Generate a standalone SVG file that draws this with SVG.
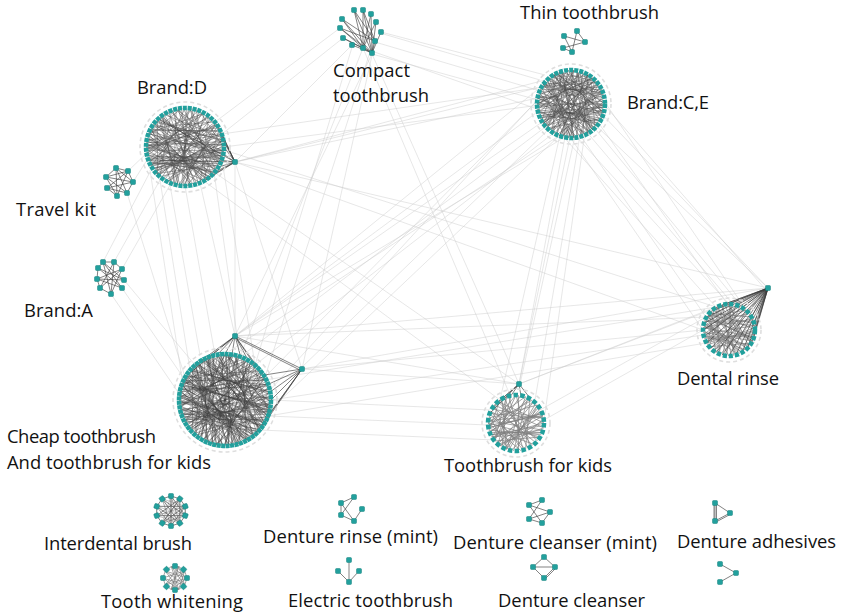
<svg xmlns="http://www.w3.org/2000/svg" xmlns:xlink="http://www.w3.org/1999/xlink" width="842" height="615" viewBox="0 0 842 615">
<style>
.lab{font-family:"Open Sans","Noto Sans",sans-serif;font-size:18.4px;fill:#111}
.faint{stroke:#c9c9c9;stroke-width:.6;fill:none;opacity:.75}
.chord{stroke:#333;stroke-width:.7;fill:none;opacity:.62}
.e{stroke:#3c3c3c;stroke-width:.8;fill:none;opacity:.8}
.ring{fill:none;stroke:#22a09d;stroke-width:4.5}
.tiny{fill:none;stroke:#dedede;stroke-width:1.6;stroke-dasharray:4 3}
.n{fill:#22a09d;stroke:#15807c;stroke-width:.5}
</style>
<defs>
<!-- chord set on a circle of radius 100, reused for each community -->
<path id="mesh" vector-effect="non-scaling-stroke" d="M100 0L-86.6 50M98.5 17.4L-94 -34.2M94 34.2L-64.3 -76.6M86.6 50L-100 0M76.6 64.3L-34.2 -94M64.3 76.6L-98.5 -17.4M50 86.6L-98.5 17.4M34.2 94L-17.4 -98.5M17.4 98.5L-94 -34.2M0 100L50 -86.6M-17.4 98.5L86.6 -50M-34.2 94L-86.6 -50M-50 86.6L98.5 -17.4M-64.3 76.6L94 34.2M-76.6 64.3L76.6 -64.3M-86.6 50L17.4 -98.5M-94 34.2L76.6 64.3M-98.5 17.4L50 -86.6M-100 0L64.3 76.6M-98.5 -17.4L94 -34.2M-94 -34.2L98.5 17.4M-86.6 -50L50 86.6M-76.6 -64.3L98.5 -17.4M-64.3 -76.6L-17.4 98.5M-50 -86.6L94 34.2M-34.2 -94L-64.3 76.6M-17.4 -98.5L86.6 50M0 -100L-76.6 64.3M17.4 -98.5L-98.5 17.4M34.2 -94L-94 34.2M50 -86.6L-94 -34.2M64.3 -76.6L-100 0M76.6 -64.3L-86.6 -50M86.6 -50L-98.5 -17.4M94 -34.2L-94 34.2M98.5 -17.4L-76.6 64.3M99.6 8.7L-99.6 8.7M96.6 25.9L-90.6 -42.3M90.6 42.3L-90.6 42.3M81.9 57.4L-99.6 -8.7M70.7 70.7L-81.9 -57.4M57.4 81.9L-96.6 -25.9M42.3 90.6L-57.4 -81.9M25.9 96.6L-42.3 -90.6M8.7 99.6L-8.7 -99.6M-8.7 99.6L8.7 -99.6M-25.9 96.6L25.9 -96.6M-42.3 90.6L57.4 -81.9M-57.4 81.9L81.9 -57.4M-70.7 70.7L96.6 -25.9M-81.9 57.4L99.6 -8.7M-90.6 42.3L99.6 8.7M-96.6 25.9L96.6 25.9M-99.6 8.7L81.9 -57.4M-99.6 -8.7L70.7 70.7M-96.6 -25.9L-8.7 -99.6M-90.6 -42.3L90.6 -42.3M-81.9 -57.4L96.6 25.9M-70.7 -70.7L-70.7 70.7M-57.4 -81.9L-25.9 96.6"/>
<!-- sparser chord set for the small rings (10 points, radius 100) -->
<path id="mesh-s" vector-effect="non-scaling-stroke" d="M100 0L-80.9 58.8M100 0L-30.9 -95.1M100 0L-80.9 -58.8M80.9 58.8L-100 0M80.9 58.8L30.9 -95.1M80.9 58.8L-30.9 -95.1M30.9 95.1L-80.9 -58.8M30.9 95.1L80.9 -58.8M30.9 95.1L-100 0M-30.9 95.1L80.9 -58.8M-30.9 95.1L30.9 -95.1M-30.9 95.1L100 0M-80.9 58.8L80.9 -58.8M-80.9 58.8L30.9 -95.1M-100 0L80.9 -58.8M-80.9 -58.8L80.9 58.8M100 0L80.9 58.8M80.9 58.8L30.9 95.1M30.9 95.1L-30.9 95.1M-30.9 95.1L-80.9 58.8M-80.9 58.8L-100 0M-100 0L-80.9 -58.8M-80.9 -58.8L-30.9 -95.1M-30.9 -95.1L30.9 -95.1M30.9 -95.1L80.9 -58.8M80.9 -58.8L100 0M-30.9 -95.1L30.9 95.1M30.9 -95.1L-30.9 95.1"/>
<rect id="nd" class="n" x="-2.5" y="-2.5" width="5" height="5" rx="1"/>
</defs>

<!-- links between communities -->
<g id="connectors">
<path class="faint" d="M590 120L768 288M598 110L768 288M600 100L766 290M585 130L755 330M592 125L742 307M575 135L729 304M560 133L716 307M600 95L751 317M580 135L706 317M595 118L755 343M570 137L703 330
M540 110L235 336M545 120L235 336M548 125L240 357M555 132L255 365M538 100L265 377M542 95L270 390M560 135L225 354M550 128L300 369M537 90L209 357M565 137L235 336M560 135L270 410
M565 137L519 384M570 137L519 384M575 136L520 384M560 135L500 400M580 135L535 400M585 132L544 420
M538 98L235 162M540 105L224 147M537 88L222 134M545 80L235 162M590 75L235 162
M380 33L540 80M375 42L537 90M372 54L538 100M381 32L545 75M363 48L540 110
M372 54L235 336M363 48L240 357M353 44L255 365M375 42L302 369M370 52L265 377M372 54L519 384M363 48L510 395
M343 38L222 134M340 28L215 122M352 45L235 162
M170 185L200 355M185 186L215 355M200 183L235 336M214 172L240 357M160 180L190 370M222 160L255 365M235 162L235 336M150 170L183 385M235 162L302 369
M235 162L768 288M235 162L703 330M224 150L716 307M214 172L519 384M204 181L500 400
M235 336L768 288M235 336L706 317M302 369L768 288M302 369L703 330M271 400L703 335M268 416L706 343M265 380L716 307
M302 369L519 384M271 400L490 410M268 416L488 425M260 430L495 440M235 336L519 384
M114 262L160 180M122 269L170 185M103 262L150 172M122 288L185 380M111 294L180 395M124 280L195 365
M519 384L768 288M544 420L703 330M540 410L706 317M519 384L716 307
M133 182L147 160M128 171L150 150M127 193L185 377"/>
<!-- hub fans into their own communities -->
<path class="e" d="M235 162L214.9 121.9M235 162L221.6 133.7M235 162L224 147M235 162L221.6 160.3M235 162L214.9 172.1M235 162L204.5 180.8M235 162L218.5 127M235 162L223 140M235 162L223.5 154M235 162L218.5 167M235 162L209 177M235 162L150 160M235 162L160 120"/>
<path class="e" d="M235 336L225 354M235 336L209.3 356.8M235 336L240.7 356.8M235 336L195.4 364.8M235 336L254.6 364.8M235 336L264.8 377M235 336L185.2 377M235 336L217 355M235 336L232 354.5M235 336L248 360M235 336L302 369M236 338L302 371M302 369L268.2 384.3M302 369L271 400M302 369L268.2 415.7M302 369L260.2 429.6M302 369L264.5 375M302 369L270 392M302 369L254.6 435.2"/>
<path class="e" d="M768 288L755 330M768 288L751.5 343M768 288L742 352.5M768 288L729 356M768 288L716 352.5M768 288L706.5 343M768 288L703 330M768 288L706.5 317M768 288L716 307.5M768 288L729 304M768 288L742 307.5M768 288L751.5 317M768 288L754.1 336.7M768 288L747.4 348.4M768 288L735.7 355.1M768 288L722.3 355.1M768 288L710.6 348.4M768 288L703.9 336.7M768 288L703.9 323.3M768 288L710.6 311.6M768 288L722.3 304.9M768 288L735.7 304.9M768 288L747.4 311.6M768 288L754.1 323.3"/>
<path class="e" d="M519 384L489.7 413.4M519 384L494.6 405M519 384L502 398.8M519 384L511.1 395.4M519 384L520.9 395.4M519 384L530 398"/>
</g>

<g id="brand-d">
<circle class="tiny" cx="185" cy="147" r="45"/>
<use href="#mesh" class="chord" transform="translate(185 147) scale(.39)"/>
<use href="#mesh" class="chord" transform="translate(185 147) rotate(17) scale(-.39 .39)"/>
<circle class="ring" cx="185" cy="147" r="39" stroke-dasharray="4 0.9"/>
<use href="#nd" x="235" y="162"/>
</g>

<g id="brand-ce">
<circle class="tiny" cx="571" cy="104" r="40"/>
<use href="#mesh" class="chord" transform="translate(571 104) rotate(40) scale(.34)"/>
<use href="#mesh" class="chord" transform="translate(571 104) rotate(-25) scale(-.34 .34)"/>
<circle class="ring" cx="571" cy="104" r="34" stroke-dasharray="4 1.1"/>
</g>

<g id="cheap-toothbrush">
<circle class="tiny" cx="225" cy="400" r="52"/>
<use href="#mesh" class="chord" transform="translate(225 400) scale(.46)"/>
<use href="#mesh" class="chord" transform="translate(225 400) rotate(33) scale(-.46 .46)"/>
<use href="#mesh" class="chord" transform="translate(225 400) rotate(71) scale(.46)"/>
<circle class="ring" cx="225" cy="400" r="46" stroke-dasharray="4 0.5"/>
<use href="#nd" x="235" y="336"/>
<use href="#nd" x="302" y="369"/>
</g>

<g id="dental-rinse">
<circle class="tiny" cx="729" cy="330" r="32"/>
<use href="#mesh" class="chord" transform="translate(729 330) rotate(10) scale(.26)"/>
<circle class="ring" cx="729" cy="330" r="26" stroke-dasharray="4.2 1.9"/>
<use href="#nd" x="768" y="288"/>
</g>

<g id="toothbrush-kids">
<circle class="tiny" cx="516" cy="423" r="34"/>
<use href="#mesh" class="chord" transform="translate(516 423) rotate(-30) scale(.28)"/>
<circle class="ring" cx="516" cy="423" r="28" stroke-dasharray="4.5 2.3"/>
<use href="#nd" x="519" y="384"/>
</g>

<g id="compact-toothbrush">
<path class="e" d="M354 10L372 53M363 10L372 53M371 14L372 53M376 22L372 53M381 32L372 53M375 41L372 53M363 48L372 53M352 45L372 53M343 38L372 53M340 28L372 53M342 19L372 53M354 10L363 48M363 10L363 48M371 14L363 48M342 19L363 48M340 28L363 48M343 38L363 48M376 22L363 48M354 10L375 41M363 10L375 41M342 19L375 41M340 28L375 41"/>
<use href="#nd" x="354" y="10"/><use href="#nd" x="363" y="10"/><use href="#nd" x="371" y="14"/><use href="#nd" x="376" y="22"/><use href="#nd" x="381" y="32"/><use href="#nd" x="375" y="41"/><use href="#nd" x="372" y="53"/><use href="#nd" x="363" y="48"/><use href="#nd" x="352" y="45"/><use href="#nd" x="343" y="38"/><use href="#nd" x="340" y="28"/><use href="#nd" x="342" y="19"/>
</g>

<g id="thin-toothbrush">
<path class="e" d="M577 31L572 52M564 36L585 42M563 48L585 42M564 36L572 52M563 48L572 52M577 31L585 42"/>
<use href="#nd" x="577" y="31"/><use href="#nd" x="564" y="36"/><use href="#nd" x="585" y="42"/><use href="#nd" x="563" y="48"/><use href="#nd" x="572" y="52"/>
</g>

<g id="travel-kit">
<path class="e" d="M116 168L127 193M116 168L133 182M116 168L117 196M128 171L107 188M128 171L117 196M128 171L106 177M133 182L106 177M133 182L107 188M127 193L106 177M127 193L107 188M117 196L106 177M116 168L106 177M128 171L133 182M133 182L127 193M117 196L107 188M116 168L128 171"/>
<use href="#nd" x="116" y="168"/><use href="#nd" x="128" y="171"/><use href="#nd" x="133" y="182"/><use href="#nd" x="127" y="193"/><use href="#nd" x="117" y="196"/><use href="#nd" x="107" y="188"/><use href="#nd" x="106" y="177"/>
</g>

<g id="brand-a">
<path class="e" d="M103 262L122 288M103 262L124 280M114 262L100 288M114 262L111 294M122 269L97 279M122 269L100 288M124 280L98 268M124 280L97 279M122 288L98 268M111 294L103 262M111 294L122 269M103 262L114 262M114 262L122 269M98 268L97 279M97 279L100 288M100 288L111 294M103 262L98 268M122 288L97 279"/>
<use href="#nd" x="103" y="262"/><use href="#nd" x="114" y="262"/><use href="#nd" x="122" y="269"/><use href="#nd" x="124" y="280"/><use href="#nd" x="122" y="288"/><use href="#nd" x="111" y="294"/><use href="#nd" x="100" y="288"/><use href="#nd" x="97" y="279"/><use href="#nd" x="98" y="268"/>
</g>

<g id="interdental-brush" transform="translate(171 511)">
<use href="#mesh-s" class="chord" transform="rotate(18) scale(.15)"/>
<use href="#mesh-s" class="chord" transform="rotate(-18) scale(.15)" style="opacity:.4"/>
<g transform="rotate(18)">
<rect class="n" x="12.5" y="-2.5" width="5" height="5" rx="1" transform="rotate(0)"/>
<rect class="n" x="12.5" y="-2.5" width="5" height="5" rx="1" transform="rotate(36)"/>
<rect class="n" x="12.5" y="-2.5" width="5" height="5" rx="1" transform="rotate(72)"/>
<rect class="n" x="12.5" y="-2.5" width="5" height="5" rx="1" transform="rotate(108)"/>
<rect class="n" x="12.5" y="-2.5" width="5" height="5" rx="1" transform="rotate(144)"/>
<rect class="n" x="12.5" y="-2.5" width="5" height="5" rx="1" transform="rotate(180)"/>
<rect class="n" x="12.5" y="-2.5" width="5" height="5" rx="1" transform="rotate(216)"/>
<rect class="n" x="12.5" y="-2.5" width="5" height="5" rx="1" transform="rotate(252)"/>
<rect class="n" x="12.5" y="-2.5" width="5" height="5" rx="1" transform="rotate(288)"/>
<rect class="n" x="12.5" y="-2.5" width="5" height="5" rx="1" transform="rotate(324)"/>
</g>
</g>

<g id="tooth-whitening" transform="translate(175 578)">
<use href="#mesh-s" class="chord" transform="scale(.12)"/>
<rect class="n" x="9.5" y="-2.5" width="5" height="5" rx="1" transform="rotate(0)"/>
<rect class="n" x="9.5" y="-2.5" width="5" height="5" rx="1" transform="rotate(45)"/>
<rect class="n" x="9.5" y="-2.5" width="5" height="5" rx="1" transform="rotate(90)"/>
<rect class="n" x="9.5" y="-2.5" width="5" height="5" rx="1" transform="rotate(135)"/>
<rect class="n" x="9.5" y="-2.5" width="5" height="5" rx="1" transform="rotate(180)"/>
<rect class="n" x="9.5" y="-2.5" width="5" height="5" rx="1" transform="rotate(225)"/>
<rect class="n" x="9.5" y="-2.5" width="5" height="5" rx="1" transform="rotate(270)"/>
<rect class="n" x="9.5" y="-2.5" width="5" height="5" rx="1" transform="rotate(315)"/>
</g>

<g id="denture-rinse-mint">
<path class="e" d="M341 503L354 497M341 503L341 515M341 503L354 521M341 515L354 497M354 521L362 509M341 515L354 521"/>
<use href="#nd" x="354" y="497"/><use href="#nd" x="341" y="503"/><use href="#nd" x="341" y="515"/><use href="#nd" x="354" y="521"/><use href="#nd" x="362" y="509"/>
</g>

<g id="electric-toothbrush">
<path class="e" d="M349 560L349 582M338 571L349 582M359 571L349 582"/>
<use href="#nd" x="349" y="560"/><use href="#nd" x="338" y="571"/><use href="#nd" x="359" y="571"/><use href="#nd" x="349" y="582"/>
</g>

<g id="denture-cleanser-mint">
<path class="e" d="M529 505L542 523M542 500L529 519M529 505L550 512M529 519L550 512M529 519L542 523M542 523L550 512M529 505L542 500"/>
<use href="#nd" x="529" y="505"/><use href="#nd" x="542" y="500"/><use href="#nd" x="550" y="512"/><use href="#nd" x="529" y="519"/><use href="#nd" x="542" y="523"/>
</g>

<g id="denture-cleanser">
<path class="e" d="M544 557L555 567M533 567L555 567M533 567L544 578M555 567L544 578M556 568L545 579M544 557L533 567"/>
<use href="#nd" x="544" y="557"/><use href="#nd" x="533" y="567"/><use href="#nd" x="555" y="567"/><use href="#nd" x="544" y="578"/>
</g>

<g id="denture-adhesives">
<path class="e" d="M715 503L730 513M715 503L715 521M730 513L715 521M716.5 503L716.5 521M714 504L714 520M729 515L716 522"/>
<use href="#nd" x="715" y="503"/><use href="#nd" x="730" y="513"/><use href="#nd" x="715" y="521"/>
</g>

<g id="pair-graph">
<path class="e" d="M720 564L736 573M736 573L720 582"/>
<use href="#nd" x="720" y="564"/><use href="#nd" x="736" y="573"/><use href="#nd" x="720" y="582"/>
</g>

<g id="labels">
<text class="lab" x="520" y="19" textLength="139">Thin toothbrush</text>
<text class="lab" x="333" y="77" textLength="77">Compact</text>
<text class="lab" x="333" y="102" textLength="96">toothbrush</text>
<text class="lab" x="137" y="94" textLength="70">Brand:D</text>
<text class="lab" x="627" y="109" textLength="82">Brand:C,E</text>
<text class="lab" x="16" y="216" textLength="80">Travel kit</text>
<text class="lab" x="24" y="317" textLength="69">Brand:A</text>
<text class="lab" x="677" y="385" textLength="102">Dental rinse</text>
<text class="lab" x="7" y="443" textLength="149">Cheap toothbrush</text>
<text class="lab" x="7" y="469" textLength="204">And toothbrush for kids</text>
<text class="lab" x="444" y="472" textLength="168">Toothbrush for kids</text>
<text class="lab" x="44" y="550" textLength="148">Interdental brush</text>
<text class="lab" x="263" y="543" textLength="175">Denture rinse (mint)</text>
<text class="lab" x="453" y="549" textLength="204">Denture cleanser (mint)</text>
<text class="lab" x="677" y="548" textLength="159">Denture adhesives</text>
<text class="lab" x="101" y="608" textLength="142">Tooth whitening</text>
<text class="lab" x="288" y="607" textLength="165">Electric toothbrush</text>
<text class="lab" x="498" y="607" textLength="147">Denture cleanser</text>
</g>
</svg>
